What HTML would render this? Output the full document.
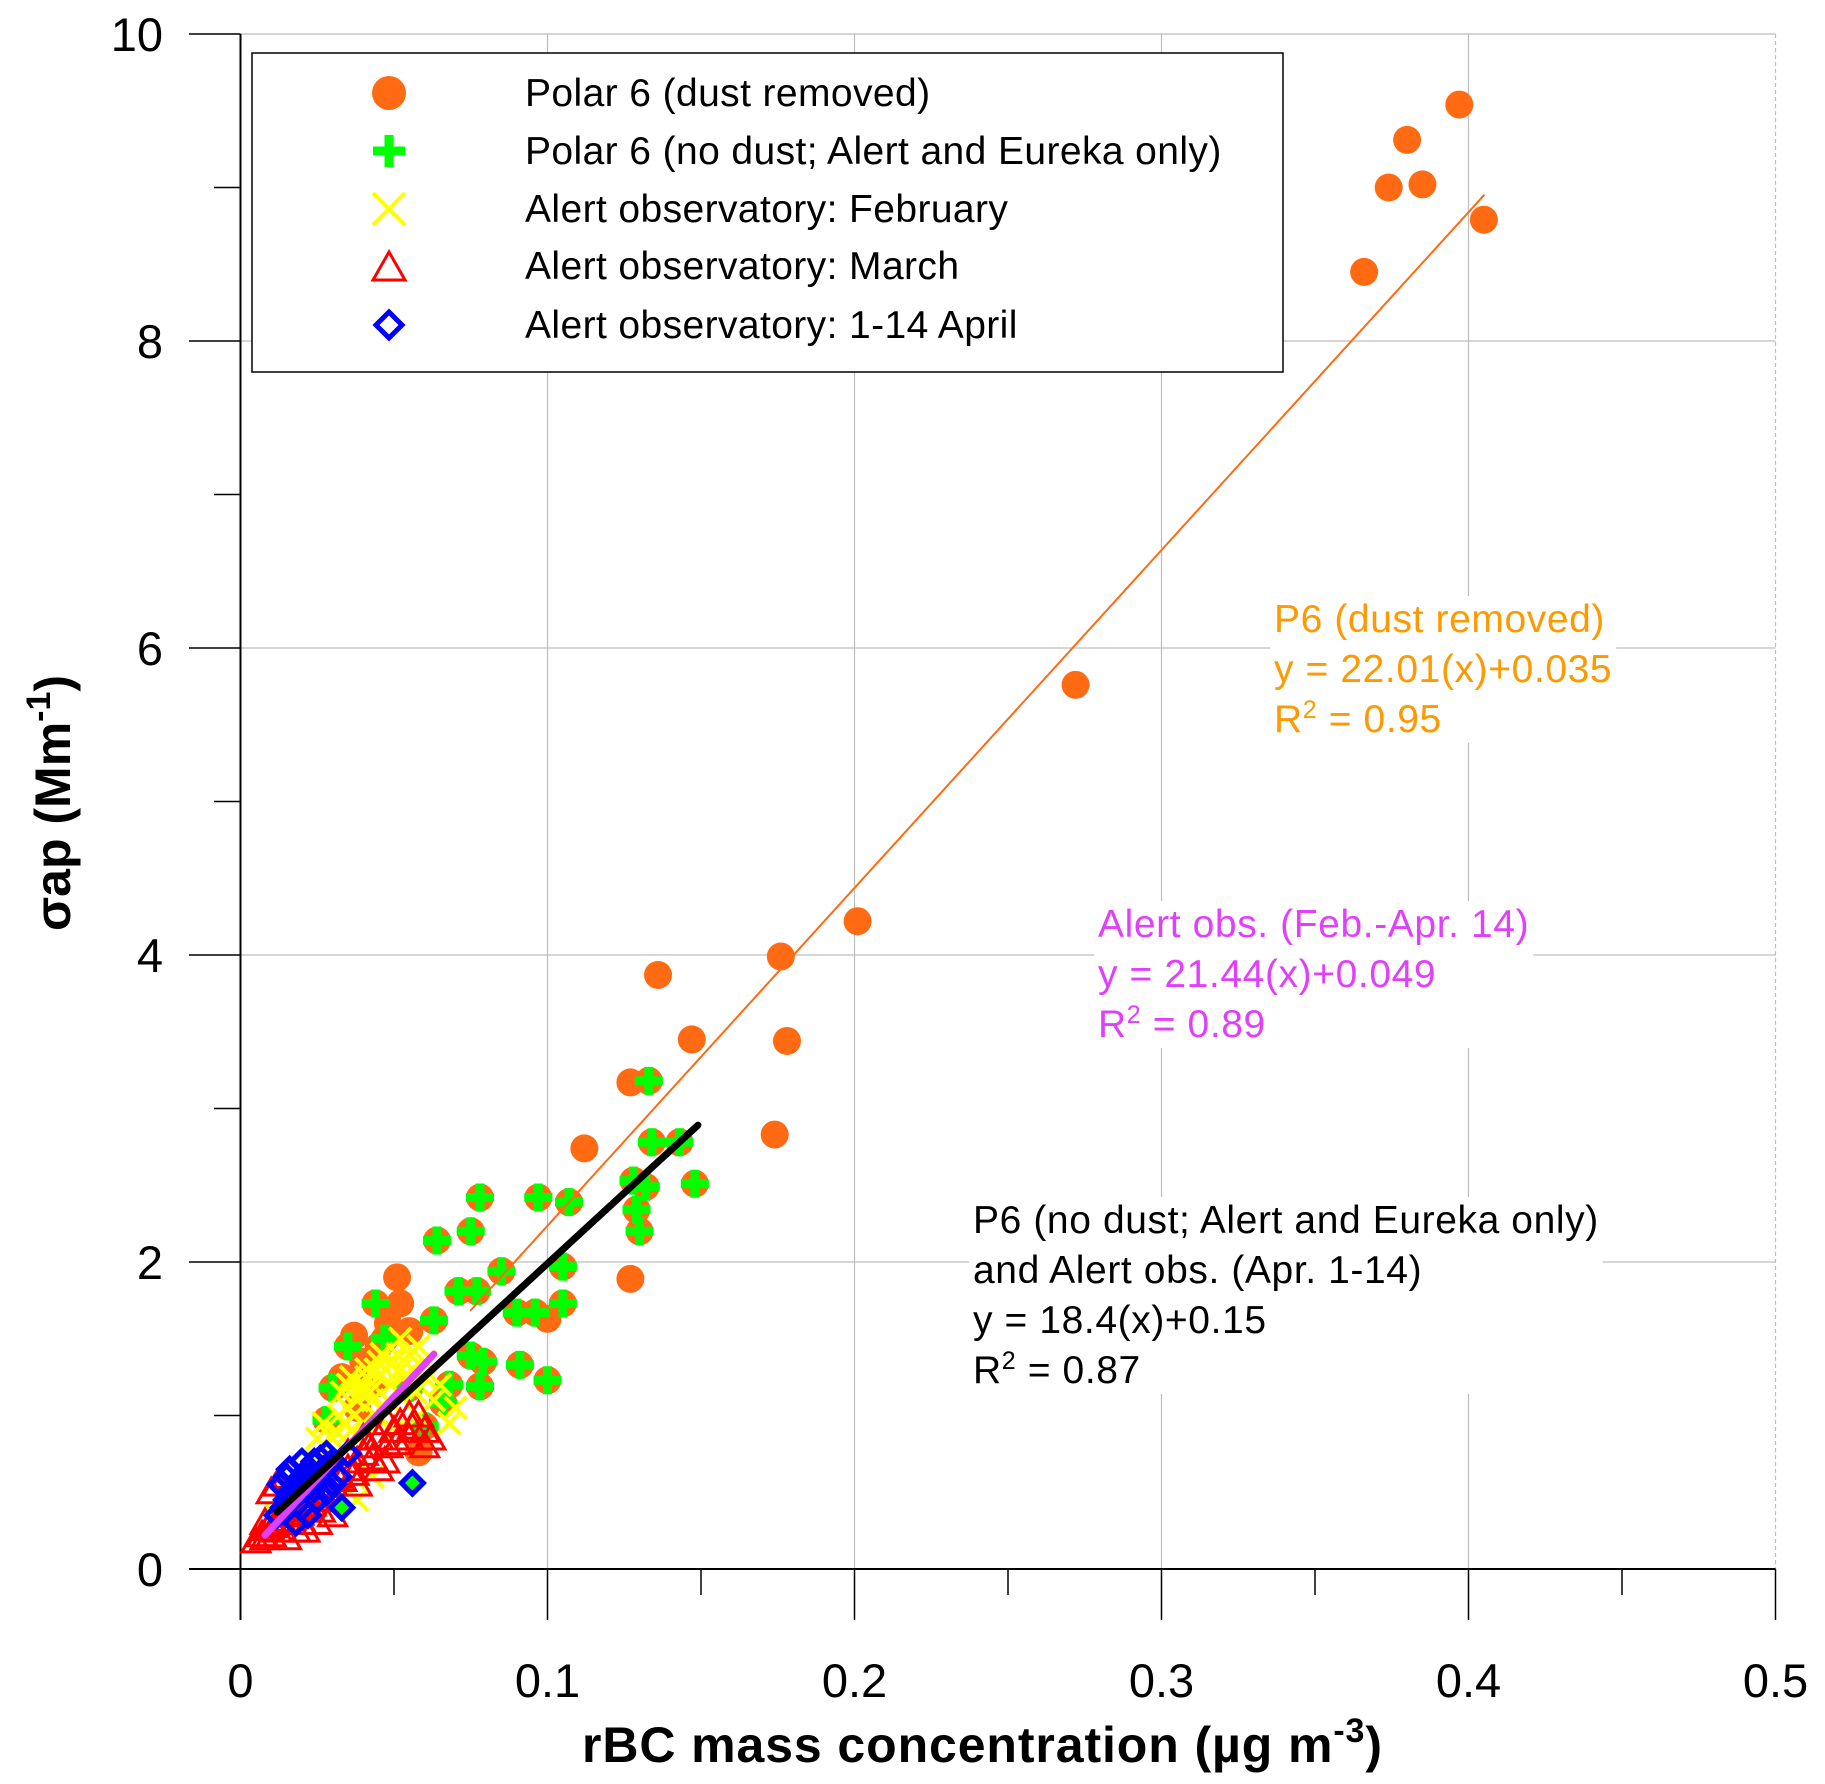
<!DOCTYPE html>
<html><head><meta charset="utf-8"><style>body{margin:0;background:#fff}svg{display:block}text{font-family:"Liberation Sans",Arial,sans-serif}</style></head>
<body>
<svg id="chart" width="1825" height="1784" viewBox="0 0 1825 1784" xmlns="http://www.w3.org/2000/svg">
<g id="grid"></g><g id="axes"></g><g id="marks"></g><g id="fits"></g><g id="ann"></g><g id="legend"></g>
</svg>
<script>
const xTicks=[0,0.1,0.2,0.3,0.4,0.5];
const xTickLabels=["0","0.1","0.2","0.3","0.4","0.5"];
const yTicks=[0,2,4,6,8,10];
const yTickLabels=["0","2","4","6","8","10"];
const p6X=[0.397,0.380,0.374,0.385,0.405,0.366,0.272,0.201,0.176,0.136,0.178,0.147,0.174,0.127,0.112,0.127,0.051,0.058,0.100,0.037,0.052,0.040,0.045,0.033,0.048,0.055,0.043,0.038];
const p6Y=[9.54,9.31,9.00,9.02,8.79,8.45,5.76,4.22,3.99,3.87,3.44,3.45,2.83,3.17,2.74,1.89,1.90,0.76,1.63,1.52,1.73,1.35,1.45,1.25,1.60,1.55,1.20,1.05];
const ndX=[0.133,0.134,0.143,0.148,0.128,0.132,0.129,0.130,0.097,0.078,0.107,0.075,0.064,0.105,0.085,0.105,0.090,0.096,0.071,0.077,0.044,0.035,0.030,0.063,0.075,0.079,0.091,0.100,0.078,0.066,0.060,0.028,0.047,0.068,0.055];
const ndY=[3.18,2.78,2.78,2.51,2.53,2.49,2.34,2.20,2.42,2.42,2.39,2.20,2.14,1.97,1.94,1.73,1.67,1.67,1.81,1.81,1.73,1.45,1.18,1.62,1.39,1.35,1.33,1.23,1.19,1.08,0.93,0.97,1.50,1.20,1.18];
const febX=[0.020,0.025,0.030,0.032,0.035,0.038,0.040,0.042,0.045,0.047,0.050,0.052,0.055,0.058,0.060,0.048,0.044,0.040,0.036,0.055,0.060,0.063,0.058,0.065,0.030,0.027,0.033,0.028,0.015,0.012,0.038,0.043,0.050,0.046,0.052,0.070,0.068,0.025,0.035,0.041,0.037,0.043,0.049,0.053,0.039,0.045,0.034,0.047,0.056,0.041,0.031,0.051,0.044,0.036,0.057];
const febY=[0.55,0.70,0.85,1.00,1.05,1.10,1.20,1.15,1.25,1.30,1.35,1.30,1.40,1.45,1.35,1.10,1.00,0.95,0.90,1.20,1.25,1.10,1.00,1.20,0.70,0.95,1.15,0.60,0.40,0.35,0.45,0.60,0.90,1.40,1.50,1.05,0.95,0.85,1.20,1.30,1.00,1.10,1.20,1.25,1.15,1.35,0.95,1.05,1.30,1.25,0.90,1.40,1.30,1.25,1.15];
const marX=[0.005,0.008,0.010,0.012,0.015,0.018,0.020,0.015,0.010,0.022,0.025,0.028,0.030,0.032,0.035,0.038,0.040,0.042,0.045,0.048,0.050,0.052,0.055,0.058,0.060,0.048,0.040,0.035,0.030,0.012,0.010,0.015,0.025,0.030,0.038,0.045,0.055,0.060,0.020,0.008,0.007,0.009,0.011,0.013,0.017,0.019,0.023,0.027,0.033,0.037,0.043,0.047,0.051,0.056,0.062,0.021,0.026,0.031];
const marY=[0.18,0.20,0.22,0.25,0.20,0.25,0.30,0.35,0.30,0.40,0.45,0.50,0.55,0.60,0.65,0.70,0.75,0.80,0.85,0.80,0.90,0.95,0.85,1.00,0.90,0.95,0.85,0.75,0.65,0.55,0.50,0.60,0.30,0.35,0.55,0.65,1.00,0.80,0.45,0.30,0.22,0.26,0.28,0.32,0.38,0.36,0.42,0.48,0.58,0.62,0.72,0.70,0.82,0.92,0.85,0.25,0.38,0.45];
const aprX=[0.012,0.014,0.015,0.016,0.018,0.020,0.022,0.024,0.026,0.028,0.013,0.015,0.020,0.022,0.025,0.028,0.030,0.032,0.018,0.033,0.056,0.035,0.020,0.025,0.017,0.019,0.021,0.023,0.027,0.029,0.016,0.024,0.026,0.030];
const aprY=[0.35,0.40,0.45,0.50,0.55,0.60,0.65,0.70,0.72,0.75,0.55,0.60,0.40,0.35,0.45,0.50,0.55,0.60,0.30,0.40,0.56,0.75,0.70,0.60,0.45,0.50,0.55,0.62,0.65,0.68,0.65,0.52,0.58,0.70];
const aprGreen=[0,0,0,0,0,0,0,0,0,0,0,0,0,0,0,0,0,0,0,1,1,0,0,0,0,0,0,0,0,0,0,0,0,0];
const fitSlopes=[22.01,21.44,18.4];
const fitIntercepts=[0.035,0.049,0.15];
const fitXmin=[0.075,0.008,0.012];
const fitXmax=[0.405,0.063,0.149];

const NS="http://www.w3.org/2000/svg";
const X0=240.5,XS=3070,Y0=1569,YS=153.5;
const sx=v=>X0+v*XS, sy=v=>Y0-v*YS;
function mk(tag,attrs,parent){const e=document.createElementNS(NS,tag);for(const k in attrs)e.setAttribute(k,attrs[k]);parent.appendChild(e);return e;}
const grid=document.getElementById('grid'),axes=document.getElementById('axes'),marks=document.getElementById('marks'),fits=document.getElementById('fits'),ann=document.getElementById('ann'),legend=document.getElementById('legend');

xTicks.forEach((t,i)=>{if(t>0){const g=mk('line',{x1:sx(t),x2:sx(t),y1:sy(10),y2:Y0,stroke:'#bdbdbd','stroke-width':1.2,'stroke-dasharray':t===0.5?'4,3':'none'},grid);

}
const tk=mk('line',{x1:sx(t),x2:sx(t),y1:Y0,y2:1620,stroke:'#000','stroke-width':1.5},axes);


const lb=mk('text',{x:sx(t),y:1697,'text-anchor':'middle','font-size':47},axes);lb.textContent=xTickLabels[i];

});
[0.05,0.15,0.25,0.35,0.45].forEach(t=>{const tk=mk('line',{x1:sx(t),x2:sx(t),y1:Y0,y2:1595,stroke:'#000','stroke-width':1.5},axes);

});
yTicks.forEach((t,i)=>{if(t>0){const g=mk('line',{x1:X0,x2:sx(0.5),y1:sy(t),y2:sy(t),stroke:'#bdbdbd','stroke-width':1.2},grid);

}
const tk=mk('line',{x1:189,x2:X0,y1:sy(t),y2:sy(t),stroke:'#000','stroke-width':1.5},axes);


const lb=mk('text',{x:163,y:sy(t)+17,'text-anchor':'end','font-size':47},axes);lb.textContent=yTickLabels[i];

});
[1,3,5,7,9].forEach(t=>{const tk=mk('line',{x1:214,x2:X0,y1:sy(t),y2:sy(t),stroke:'#000','stroke-width':1.5},axes);

});
const xa=mk('line',{x1:189,x2:sx(0.5),y1:Y0,y2:Y0,stroke:'#000','stroke-width':2},axes);


const ya=mk('line',{x1:X0,x2:X0,y1:sy(10),y2:1620,stroke:'#000','stroke-width':2},axes);


const xt=mk('text',{x:982,y:1762,'text-anchor':'middle','font-size':50,'font-weight':'bold','textLength':800,'lengthAdjust':'spacing'},axes);
xt.innerHTML='rBC mass concentration  (µg m<tspan dy="-20" font-size="34">-3</tspan><tspan dy="20">)</tspan>';


const yt=mk('text',{x:0,y:0,'text-anchor':'middle','font-size':50,'font-weight':'bold',transform:'translate(70,803) rotate(-90)'},axes);
yt.innerHTML='σap (Mm<tspan dy="-20" font-size="34">-1</tspan><tspan dy="20">)</tspan>';



function circle(cx,cy,r,p){return mk('circle',{cx,cy,r,fill:'#ff6a13'},p);}
function plus(cx,cy,s,p){return mk('path',{d:`M${cx-s} ${cy}H${cx+s}M${cx} ${cy-s}V${cy+s}`,stroke:'#00ff00','stroke-width':9,fill:'none'},p);}
function cross(cx,cy,s,p){return mk('path',{d:`M${cx-s} ${cy-s}L${cx+s} ${cy+s}M${cx+s} ${cy-s}L${cx-s} ${cy+s}`,stroke:'#ffff00','stroke-width':4,fill:'none'},p);}
function tri(cx,cy,s,p){return mk('path',{d:`M${cx} ${cy-s}L${cx+s} ${cy+s*0.75}L${cx-s} ${cy+s*0.75}Z`,stroke:'#ff0000','stroke-width':3,fill:'none'},p);}
function diam(cx,cy,s,p,f){return mk('path',{d:`M${cx} ${cy-s}L${cx+s} ${cy}L${cx} ${cy+s}L${cx-s} ${cy}Z`,stroke:'#0000ff','stroke-width':5,fill:f},p);}

p6X.forEach((v,i)=>{const e=circle(sx(v),sy(p6Y[i]),14,marks);

});
ndX.forEach((v,i)=>{const e=circle(sx(v),sy(ndY[i]),14,marks);

});
ndX.forEach((v,i)=>{const e=plus(sx(v),sy(ndY[i]),14,marks);

});
febX.forEach((v,i)=>{const e=cross(sx(v),sy(febY[i]),11,marks);

});
marX.forEach((v,i)=>{const e=tri(sx(v),sy(marY[i]),14,marks);

});
aprX.forEach((v,i)=>{const e=diam(sx(v),sy(aprY[i]),11,marks,aprGreen[i]?'#00ff00':'none');

});

const fitColors=['#ff6a13','#e040fb','#000'],fitW=[2,7,7],fitNames=['fit-p6-dust-removed','fit-alert-obs','fit-p6-no-dust'];
[0,1,2].forEach(i=>{const e=mk('line',{x1:sx(fitXmin[i]),y1:sy(fitSlopes[i]*fitXmin[i]+fitIntercepts[i]),x2:sx(fitXmax[i]),y2:sy(fitSlopes[i]*fitXmax[i]+fitIntercepts[i]),stroke:fitColors[i],'stroke-width':fitW[i],'stroke-linecap':'round'},fits);

});

function block(x,y0,lines,color,name){const g=mk('g',{},ann);


lines.forEach((l,i)=>{const t=mk('text',{x,y:y0+i*50,'font-size':39,fill:color,'letter-spacing':'0.6'},g);t.innerHTML=l;});
const bb=g.getBBox();const r=document.createElementNS(NS,'rect');r.setAttribute('x',bb.x-4);r.setAttribute('y',bb.y-2);r.setAttribute('width',bb.width+8);r.setAttribute('height',bb.height+4);r.setAttribute('fill','#fff');g.insertBefore(r,g.firstChild);}
block(1274,632,['P6 (dust removed)','y = 22.01(x)+0.035','R<tspan dy="-14" font-size="25">2</tspan><tspan dy="14"> = 0.95</tspan>'],'#ff9900','annotation-p6-dust-removed');
block(1098,937,['Alert  obs. (Feb.-Apr. 14)','y = 21.44(x)+0.049','R<tspan dy="-14" font-size="25">2</tspan><tspan dy="14"> = 0.89</tspan>'],'#e040fb','annotation-alert-obs');
block(973,1233,['P6 (no dust; Alert and Eureka only)','and Alert  obs. (Apr. 1-14)','y = 18.4(x)+0.15','R<tspan dy="-14" font-size="25">2</tspan><tspan dy="14"> = 0.87</tspan>'],'#000','annotation-p6-no-dust');

const lb=mk('rect',{x:252,y:53,width:1031,height:319,fill:'#fff',stroke:'#000','stroke-width':1.5},legend);


const labels=['Polar 6  (dust removed)','Polar 6  (no dust; Alert and Eureka only)','Alert observatory: February','Alert observatory: March','Alert observatory: 1-14  April'];
const rows=[93,151,209,266,325];
rows.forEach((ry,i)=>{const g=mk('g',{},legend);


if(i===0)circle(389,ry,17,g);if(i===1)plus(389,ry,16,g);if(i===2)cross(389,ry,16,g);if(i===3)tri(389,ry+2,16,g);if(i===4)diam(389,ry,13,g,'none');
const t=mk('text',{x:525,y:ry+13,'font-size':39,'letter-spacing':'0.4'},g);t.textContent=labels[i];});
</script>
</body></html>
